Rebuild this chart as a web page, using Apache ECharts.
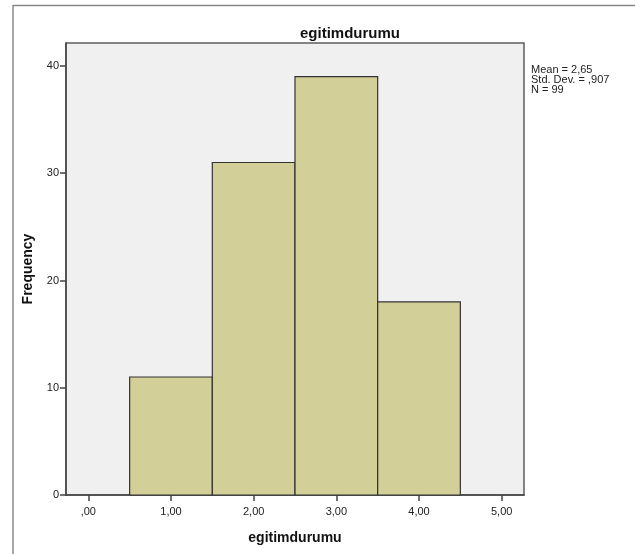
<!DOCTYPE html>
<html>
<head>
<meta charset="utf-8">
<script src="https://cdn.jsdelivr.net/npm/echarts@6/dist/echarts.min.js"></script>
<style>html,body{margin:0;padding:0;background:#fff}#c{width:635px;height:554px}</style>
</head>
<body>
<div id="c"></div>
<script>
var binCenters = [1, 2, 3, 4];
var frequencies = [11, 31, 39, 18];
var binWidth = 1;
var xTicks = [0, 1, 2, 3, 4, 5];
var yTicks = [0, 10, 20, 30, 40];
var titleText = 'egitimdurumu';
var xName = 'egitimdurumu';
var yName = 'Frequency';

function fmt(v, d) {
  var s = v.toFixed(d).replace('.', ',');
  if (s.indexOf('0,') === 0) s = s.substring(1);
  return s;
}
var N = frequencies.reduce(function (a, b) { return a + b; }, 0);
var sum = 0, sumSq = 0;
binCenters.forEach(function (c, i) { sum += c * frequencies[i]; sumSq += c * c * frequencies[i]; });
var mean = sum / N;
var sd = Math.sqrt((sumSq - N * mean * mean) / (N - 1));
var statsText = 'Mean = ' + fmt(mean, 2) + '\nStd. Dev. = ' + fmt(sd, 3) + '\nN = ' + N;

var data = binCenters.map(function (c, i) { return [c - binWidth / 2, c + binWidth / 2, frequencies[i]]; });

var FONT = '"Liberation Sans", Arial, sans-serif';
var chart = echarts.init(document.getElementById('c'));
chart.setOption({
  animation: false,
  backgroundColor: '#fff',
  title: {
    text: titleText, left: 345, top: 21, textAlign: 'center',
    textStyle: { fontFamily: FONT, fontSize: 15, fontWeight: 'bold', color: '#111' }
  },
  grid: {
    left: 66, top: 43, right: 111, bottom: 59, show: true,
    backgroundColor: '#f0f0f0', borderColor: '#5e5e5e', borderWidth: 1.5
  },
  xAxis: {
    type: 'value', min: -0.27, max: 5.27,
    name: xName, nameLocation: 'middle', nameGap: 36,
    nameTextStyle: { fontFamily: FONT, fontSize: 14, fontWeight: 'bold', color: '#111' },
    axisLine: { show: true, onZero: false, lineStyle: { color: '#444', width: 1.5 } },
    axisTick: { show: true, length: 6, customValues: xTicks, lineStyle: { color: '#444', width: 1.5 } },
    axisLabel: { customValues: xTicks, margin: 11, fontFamily: FONT, fontSize: 11, color: '#222',
      formatter: function (v) { return fmt(v, 2); } },
    splitLine: { show: false }
  },
  yAxis: {
    type: 'value', min: 0, max: 42.14,
    name: yName, nameLocation: 'middle', nameGap: 31,
    nameTextStyle: { fontFamily: FONT, fontSize: 14, fontWeight: 'bold', color: '#111' },
    axisLine: { show: true, onZero: false, lineStyle: { color: '#444', width: 1.5 } },
    axisTick: { show: true, length: 6, customValues: yTicks, lineStyle: { color: '#444', width: 1.5 } },
    axisLabel: { customValues: yTicks, margin: 7, fontFamily: FONT, fontSize: 11, color: '#222' },
    splitLine: { show: false }
  },
  graphic: [
    { type: 'line', shape: { x1: 13, y1: 5.5, x2: 635, y2: 5.5 }, style: { stroke: '#888', lineWidth: 1.5 } },
    { type: 'line', shape: { x1: 13, y1: 5, x2: 13, y2: 554 }, style: { stroke: '#888', lineWidth: 1.5 } },
    { type: 'text', left: 531, top: 64, style: { text: statsText, fontFamily: FONT, fontSize: 11, lineHeight: 10, fill: '#222' } }
  ],
  series: [{
    type: 'custom',
    data: data,
    encode: { x: [0, 1], y: 2 },
    renderItem: function (params, api) {
      var p0 = api.coord([api.value(0), api.value(2)]);
      var p1 = api.coord([api.value(1), 0]);
      return {
        type: 'rect',
        shape: { x: p0[0], y: p0[1], width: p1[0] - p0[0], height: p1[1] - p0[1] },
        style: { fill: '#d3cf98', stroke: '#333', lineWidth: 1.2 }
      };
    }
  }]
});
</script>
</body>
</html>
